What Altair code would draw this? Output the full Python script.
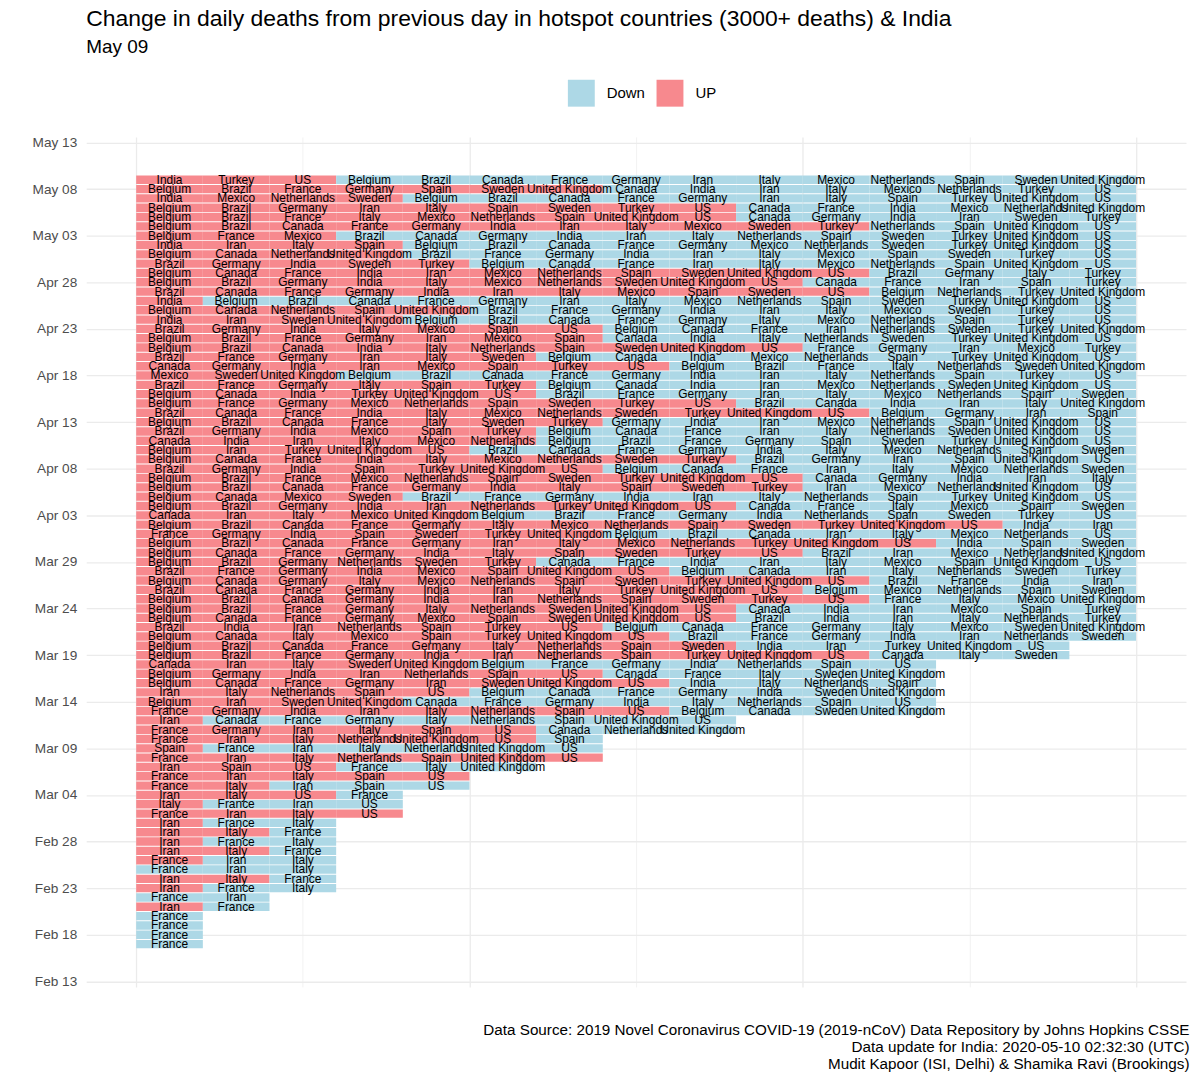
import altair as alt
import pandas as pd

FONT = "Liberation Sans, Arial, Helvetica, sans-serif"
BLUE = "#ADD8E6"
RED = "#F7898E"

TITLE = "Change in daily deaths from previous day in hotspot countries (3000+ deaths) & India"
SUBTITLE = "May 09"
CAPTION = [
    "Data Source: 2019 Novel Coronavirus COVID-19 (2019-nCoV) Data Repository by Johns Hopkins CSSE",
    "Data update for India: 2020-05-10 02:32:30 (UTC)",
    "Mudit Kapoor (ISI, Delhi) & Shamika Ravi (Brookings)",
]

COUNTRY = {"Be": "Belgium", "Br": "Brazil", "Ca": "Canada", "Fr": "France", "Ge": "Germany",
           "In": "India", "Ir": "Iran", "It": "Italy", "Me": "Mexico", "Ne": "Netherlands",
           "Sp": "Spain", "Sw": "Sweden", "Tu": "Turkey", "UK": "United Kingdom", "US": "US"}

# y-axis tick dates and their labels
AXIS_START = "2020-02-13"
y_tick_labels = ["Feb 13", "Feb 18", "Feb 23", "Feb 28", "Mar 04", "Mar 09", "Mar 14", "Mar 19",
                 "Mar 24", "Mar 29", "Apr 03", "Apr 08", "Apr 13", "Apr 18", "Apr 23", "Apr 28",
                 "May 03", "May 08", "May 13"]

dates = [
    "2020-05-09", "2020-05-08", "2020-05-07", "2020-05-06", "2020-05-05", "2020-05-04",
    "2020-05-03", "2020-05-02", "2020-05-01", "2020-04-30", "2020-04-29", "2020-04-28",
    "2020-04-27", "2020-04-26", "2020-04-25", "2020-04-24", "2020-04-23", "2020-04-22",
    "2020-04-21", "2020-04-20", "2020-04-19", "2020-04-18", "2020-04-17", "2020-04-16",
    "2020-04-15", "2020-04-14", "2020-04-13", "2020-04-12", "2020-04-11", "2020-04-10",
    "2020-04-09", "2020-04-08", "2020-04-07", "2020-04-06", "2020-04-05", "2020-04-04",
    "2020-04-03", "2020-04-02", "2020-04-01", "2020-03-31", "2020-03-30", "2020-03-29",
    "2020-03-28", "2020-03-27", "2020-03-26", "2020-03-25", "2020-03-24", "2020-03-23",
    "2020-03-22", "2020-03-21", "2020-03-20", "2020-03-19", "2020-03-18", "2020-03-17",
    "2020-03-16", "2020-03-15", "2020-03-14", "2020-03-13", "2020-03-12", "2020-03-11",
    "2020-03-10", "2020-03-09", "2020-03-08", "2020-03-07", "2020-03-06", "2020-03-05",
    "2020-03-04", "2020-03-03", "2020-03-02", "2020-03-01", "2020-02-29", "2020-02-28",
    "2020-02-27", "2020-02-26", "2020-02-25", "2020-02-24", "2020-02-23", "2020-02-22",
    "2020-02-21", "2020-02-20", "2020-02-19", "2020-02-18", "2020-02-17",
]

# countries whose daily deaths went UP vs previous day (in displayed order)
up_rows = [
    "In Tu US", "Be Br Fr Ge Sp Sw UK", "In Me Ne Sw", "Be Br Ge Ir It Sp Sw Tu US",
    "Be Br Fr It Me Ne Sp UK US", "Be Br Ca Fr Ge In Ir It Me Sw Tu", "Be Fr Me", "In Ir It Sp",
    "Be Ca Ne UK", "Br Ge In Sw Tu", "Be Ca Fr In Ir Me Ne Sp Sw UK US",
    "Be Br Ge In It Me Ne Sw UK US", "Br Ca Fr Ge In Ir It Me Sp Sw US", "In", "Be Ca Ne Sp UK",
    "In Ir Sw UK", "Br Ge In It Me Sp US", "Be Br Fr Ge Ir Me Sp", "Be Br Ca In It Ne Sp Sw UK US",
    "Br Fr Ge Ir It Sw", "Ca Ge In Ir Me Sp Tu US", "Me Sw UK", "Br Fr Ge It Sp Tu",
    "Be Ca In Tu UK US", "Be Fr Ge Me Ne Sp Sw Tu US", "Br Ca Fr In It Me Ne Sw Tu UK US",
    "Be Br Ca Fr It Sw Tu", "Br Ge In Me Sp Tu", "Ca In Ir It Me Ne", "Be Ir Tu UK US",
    "Be Ca Fr In It Me Ne Sw Tu", "Br Ge In Sp Tu UK US", "Be Br Fr Me Ne Sp Sw Tu UK US",
    "Be Br Ca Fr Ge In It Sp Sw Tu", "Be Ca Me Sw", "Be Br Ge In Ir Ne Tu UK US", "Ca Ir It Me UK",
    "Be Br Ca Fr Ge It Me Ne Sp Sw Tu UK US", "Fr Ge In Sp Sw Tu UK",
    "Be Br Ca Fr Ge Ir It Me Ne Tu UK US", "Be Ca Fr Ge In It Sp Sw Tu US", "Be Br Ge Ne Sw Tu",
    "Br Fr Ge In Me Sp UK US", "Be Ca Ge It Me Ne Sp Sw Tu UK US", "Br Ca Fr Ge In Ir It Tu UK US",
    "Be Br Ca Ge In Ir Ne Sp Sw Tu US", "Be Br Fr Ge It Ne Sw UK US", "Be Ca Fr Ge Me Sp Sw UK US",
    "Br In Ir Ne Sp Tu US", "Be Ca It Me Sp Tu UK US", "Be Br Ca Fr Ge It Ne Sp Sw",
    "Be Br Fr Ge In Ir Ne Sp Tu UK US", "Ca Ir It Sw UK", "Be Ge In Ir Ne Sp US",
    "Be Ca Fr Ge Ir Sw UK US", "Ir It Ne Sp US", "Be Ir Sw UK", "Fr Ge In Ir It Ne Sp US", "Ir",
    "Fr Ge Ir It Sp US", "Fr Ir It Ne UK US", "Sp", "Fr Ir It Ne Sp UK US", "Ir Sp US",
    "Fr Ir It Sp US", "Fr It", "Ir It US", "It", "Fr Ir It US", "Ir", "Ir It", "Ir", "Ir It", "Fr",
    "", "Ir It", "Ir", "", "Ir", "", "", "", "",
]

# countries whose daily deaths went DOWN (or did not rise)
down_rows = [
    "Be Br Ca Fr Ge Ir It Me Ne Sp Sw UK", "Ca In Ir It Me Ne Tu US", "Be Br Ca Fr Ge Ir It Sp Tu UK US",
    "Ca Fr In Me Ne UK", "Ca Ge In Ir Sw Tu", "Ne Sp UK US", "Br Ca Ge In Ir It Ne Sp Sw Tu UK US",
    "Be Br Ca Fr Ge Me Ne Sw Tu UK US", "Br Fr Ge In Ir It Me Sp Sw Tu US",
    "Be Ca Fr Ir It Me Ne Sp UK US", "Br Ge It Tu", "Ca Fr Ir Sp Tu", "Be Ne Tu UK",
    "Be Br Ca Fr Ge Ir It Me Ne Sp Sw Tu UK US", "Br Fr Ge In Ir It Me Sw Tu US",
    "Be Br Ca Fr Ge It Me Ne Sp Tu US", "Be Ca Fr Ir Ne Sw Tu UK", "Ca In It Ne Sw Tu UK US",
    "Fr Ge Ir Me Tu", "Be Ca In Me Ne Sp Tu UK US", "Be Br Fr It Ne Sw UK",
    "Be Br Ca Fr Ge In Ir It Ne Sp Tu US", "Be Ca In Ir Me Ne Sw UK US", "Br Fr Ge Ir It Me Ne Sp Sw",
    "Br Ca In Ir It UK", "Be Ge Ir Sp", "Ge In Ir Me Ne Sp UK US", "Be Ca Fr Ir It Ne Sw UK US",
    "Be Br Fr Ge Sp Sw Tu UK US", "Br Ca Fr Ge In It Me Ne Sp Sw", "Br Ge Ir Sp UK US",
    "Be Ca Fr Ir It Me Ne Sw", "Ca Ge In Ir It", "Ir Me Ne UK US", "Br Fr Ge In Ir It Ne Sp Tu UK US",
    "Ca Fr It Me Sp Sw", "Be Br Fr Ge In Ne Sp Sw Tu US", "In Ir", "Be Br Ca Ir It Me Ne US",
    "In Sp Sw", "Br Ir Me Ne UK", "Ca Fr In Ir It Me Sp UK US", "Be Ca Ir It Ne Sw Tu",
    "Br Fr In Ir", "Be Me Ne Sp Sw", "Fr It Me UK", "Ca In Ir Me Sp Tu", "Br In Ir It Ne Tu",
    "Be Ca Fr Ge It Me Sw UK", "Br Fr Ge In Ir Ne Sw", "In Ir Tu UK US", "Ca It Sw",
    "Be Fr Ge In Ne Sp US", "Ca Fr It Sw UK", "In It Ne Sp", "Be Ca Fr Ge In Sw UK",
    "Ca Fr Ge In It Ne Sp US", "Be Ca Sw UK", "Ca Fr Ge It Ne Sp UK US", "Ca Ne UK", "Sp",
    "Fr Ir It Ne UK US", "", "Fr It UK", "", "Ir Sp US", "Fr", "Fr Ir US", "", "Fr It", "Fr",
    "Fr It", "Fr", "Ir It", "Fr Ir It", "Fr", "Fr It", "Fr Ir", "Fr", "Fr", "Fr", "Fr", "Fr",
]

base = pd.Timestamp(AXIS_START)
records = []
for d, u, dn in zip(dates, up_rows, down_rows):
    day = (pd.Timestamp(d) - base).days
    codes = [(c, "UP") for c in u.split()] + [(c, "Down") for c in dn.split()]
    for i, (c, s) in enumerate(codes):
        records.append({"day": day, "pos": i, "country": COUNTRY[c], "status": s})
df = pd.DataFrame(records)

# ---- layout ----
W = 1104
H = 853.2
x_scale = alt.Scale(domain=[-0.75, 15.75], nice=False, zero=False)
y_scale = alt.Scale(domain=[-0.595, 90.595], nice=False, zero=False)

label_arr = "[" + ",".join("'" + s + "'" for s in y_tick_labels) + "]"
y_vals = [i * 2.5 for i in range(37)]
x_vals = [i * 2.5 for i in range(7)]

grid_w = {"condition": {"test": "datum.value % 5 === 0", "value": 1.3}, "value": 0.65}

x_axis = alt.Axis(values=x_vals, labels=False, ticks=False, domain=False, grid=True,
                  gridColor="#EBEBEB", gridWidth=grid_w, title="")
y_axis = alt.Axis(values=y_vals, ticks=False, domain=False, grid=True, gridColor="#EBEBEB",
                  gridWidth=grid_w, title="", labelFont=FONT, labelFontSize=13.7,
                  labelColor="#4D4D4D", labelPadding=9.5, labelOverlap=False, labelFlush=False,
                  labelExpr="datum.value % 5 === 0 ? " + label_arr + "[round(datum.value / 5)] : ''")

base_chart = alt.Chart(df).transform_calculate(
    x0="datum.pos", x1="datum.pos + 1", xc="datum.pos + 0.5",
    y0="datum.day - 0.45", y1="datum.day + 0.45",
)

tiles = base_chart.mark_rect().encode(
    x=alt.X("x0:Q", scale=x_scale, axis=x_axis),
    x2="x1:Q",
    y=alt.Y("y0:Q", scale=y_scale, axis=y_axis),
    y2="y1:Q",
    color=alt.Color("status:N",
                    scale=alt.Scale(domain=["Down", "UP"], range=[BLUE, RED]),
                    legend=alt.Legend(title=None, orient="none", legendX=483.5, legendY=-57.4,
                                      direction="horizontal", symbolType="square",
                                      symbolSize=729, symbolStrokeWidth=0, symbolOpacity=1,
                                      labelFont=FONT, labelFontSize=15, labelColor="#000000",
                                      labelOffset=12, columnPadding=11, padding=0)),
)

labels = base_chart.mark_text(font=FONT, fontSize=12, color="#000000",
                              baseline="middle", align="center").encode(
    x=alt.X("xc:Q", scale=x_scale),
    y=alt.Y("day:Q", scale=y_scale),
    text="country:N",
)

title = alt.Chart(pd.DataFrame({"t": [TITLE]})).mark_text(
    font=FONT, fontSize=23, color="#000000", align="left", baseline="alphabetic"
).encode(x=alt.value(0), y=alt.value(-111.4), text="t:N")

subtitle = alt.Chart(pd.DataFrame({"t": [SUBTITLE]})).mark_text(
    font=FONT, fontSize=19, color="#000000", align="left", baseline="alphabetic"
).encode(x=alt.value(0), y=alt.value(-83.9), text="t:N")

caption = alt.Chart(pd.DataFrame({"t": ["\n".join(CAPTION)]})).mark_text(
    font=FONT, fontSize=15.3, color="#000000", align="right", baseline="alphabetic",
    lineBreak="\n", lineHeight=17
).encode(x=alt.value(W + 3.5), y=alt.value(901.6), text="t:N")

chart = alt.layer(tiles, labels, title, subtitle, caption).properties(
    width=W, height=H,
    autosize=alt.AutoSizeParams(type="none"),
    padding={"left": 78.5, "top": 127.4, "right": 6, "bottom": 90},
).configure_view(strokeWidth=0)

chart.save("out.html", embed_options={"renderer": "svg", "actions": False})
